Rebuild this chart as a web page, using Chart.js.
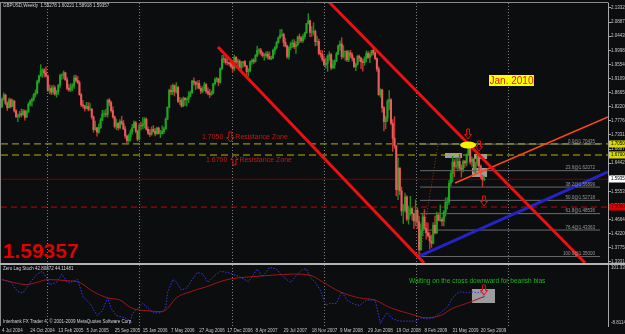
<!DOCTYPE html>
<html><head><meta charset="utf-8">
<script src="https://cdn.jsdelivr.net/npm/chart.js@4.4.1/dist/chart.umd.min.js"></script>
<style>
html,body{margin:0;padding:0;background:#0b0d0f;width:625px;height:334px;overflow:hidden}
#main{position:absolute;left:0;top:0}
#sub{position:absolute;left:0;top:263px}
</style></head><body>
<canvas id="main" width="625" height="264"></canvas>
<canvas id="sub" width="625" height="71"></canvas>
<script>
// ---------- DATA (weekly GBPUSD, week 0 = 4 Jul 2004) ----------
const symbolTitle = 'GBPUSD,Weekly';
const opens = [
1.8210,1.8460,1.8590,1.8330,1.8190,1.8440,1.8230,1.8400,1.8090,1.7910,
1.7940,1.8000,1.7970,1.8080,1.7890,1.8060,1.8300,1.8400,1.8460,1.8600,
1.8660,1.9020,1.9190,1.9350,1.9380,1.9280,1.9190,1.8730,1.8800,1.8680,
1.8820,1.8620,1.8700,1.8900,1.9200,1.9200,1.9290,1.9070,1.8800,1.8750,
1.8830,1.8890,1.9130,1.9050,1.8980,1.8600,1.8280,1.8250,1.8160,1.8230,
1.8150,1.8150,1.7900,1.7500,1.7560,1.7420,1.7560,1.7800,1.7990,1.8000,
1.7980,1.8430,1.8350,1.8100,1.7900,1.7600,1.7700,1.7560,1.7760,1.7690,
1.7520,1.7300,1.7150,1.7280,1.7430,1.7560,1.7720,1.7450,1.7200,1.7630,
1.7620,1.7680,1.7830,1.7510,1.7390,1.7350,1.7510,1.7450,1.7370,1.7550,
1.7380,1.7380,1.7440,1.7530,1.7830,1.8200,1.8740,1.8690,1.8890,1.8690,
1.8830,1.8390,1.8420,1.8240,1.8480,1.8440,1.8450,1.8550,1.8660,1.9030,
1.8990,1.8920,1.8960,1.8800,1.8710,1.8770,1.8920,1.8700,1.8650,1.8600,
1.8650,1.8950,1.9080,1.9100,1.8990,1.9420,1.9730,1.9720,1.9620,1.9610,
1.9580,1.9490,1.9420,1.9780,1.9630,1.9660,1.9450,1.9600,1.9640,1.9510,
1.9330,1.9360,1.9640,1.9680,1.9650,1.9830,2.0000,2.0010,1.9920,1.9830,
1.9830,1.9880,1.9800,1.9730,1.9750,2.0000,2.0080,2.0240,2.0390,2.0480,
2.0500,2.0250,2.0140,1.9800,2.0080,2.0200,2.0230,2.0110,2.0180,2.0420,
2.0380,2.0300,2.0430,2.0550,2.0840,2.0930,2.0560,2.0580,2.0600,2.0270,
2.0280,1.9900,1.9860,1.9710,1.9540,1.9590,1.9810,1.9860,1.9450,1.9540,
1.9660,1.9880,2.0140,2.0200,1.9800,1.9960,1.9960,1.9700,1.9920,1.9850,
1.9740,1.9480,1.9560,1.9810,1.9760,1.9640,1.9610,1.9730,1.9900,1.9770,
1.9870,2.0000,1.9920,1.9740,1.9410,1.8600,1.8750,1.8190,1.7750,1.7860,
1.8380,1.8440,1.7700,1.7230,1.6990,1.5610,1.6290,1.5570,1.4940,1.4960,
1.5380,1.4680,1.4860,1.5010,1.4850,1.4620,1.4960,1.4600,1.3710,1.4320,
1.4750,1.4390,1.4250,1.4150,1.3990,1.3920,1.4490,1.4250,1.4810,1.4640,
1.4670,1.4620,1.4900,1.5210,1.5220,1.5810,1.6120,1.6480,1.6340,1.6360,
1.6500,1.6290,1.6250,1.6500,1.6450,1.6700,1.6950,1.6480,1.6570,1.6240,
1.6450,1.6640,1.6350,1.6010,1.59278];
const highs = [
1.8500,1.8660,1.8620,1.8380,1.8490,1.8480,1.8460,1.8420,1.8130,1.7990,
1.8080,1.8150,1.8140,1.8120,1.8110,1.8350,1.8440,1.8500,1.8640,1.8750,
1.9060,1.9220,1.9550,1.9420,1.9420,1.9480,1.9230,1.8910,1.8880,1.8900,
1.8880,1.8740,1.8920,1.9250,1.9260,1.9350,1.9310,1.9150,1.8920,1.8950,
1.8950,1.9210,1.9220,1.9180,1.9040,1.8640,1.8420,1.8270,1.8360,1.8350,
1.8340,1.8160,1.7930,1.7770,1.7570,1.7680,1.7860,1.8110,1.8100,1.8140,
1.8450,1.8480,1.8400,1.8220,1.7930,1.7830,1.7720,1.7820,1.7920,1.7790,
1.7600,1.7330,1.7360,1.7500,1.7670,1.7780,1.7760,1.7480,1.7700,1.7740,
1.7880,1.7880,1.7870,1.7580,1.7500,1.7590,1.7630,1.7540,1.7580,1.7580,
1.7480,1.7620,1.7580,1.7870,1.8220,1.8780,1.8890,1.8940,1.8910,1.8980,
1.8870,1.8520,1.8490,1.8530,1.8520,1.8500,1.8700,1.8720,1.9050,1.9130,
1.9020,1.9040,1.9050,1.8870,1.8850,1.8990,1.8950,1.8820,1.8770,1.8720,
1.8960,1.9130,1.9150,1.9120,1.9450,1.9840,1.9850,1.9770,1.9780,1.9630,
1.9680,1.9560,1.9850,1.9800,1.9720,1.9700,1.9650,1.9650,1.9680,1.9520,
1.9420,1.9670,1.9730,1.9740,1.9870,2.0130,2.0050,2.0060,1.9950,1.9900,
1.9960,1.9960,1.9950,1.9820,2.0040,2.0120,2.0280,2.0420,2.0650,2.0660,
2.0540,2.0380,2.0160,2.0120,2.0260,2.0330,2.0340,2.0280,2.0450,2.0520,
2.0440,2.0500,2.0570,2.0850,2.1160,2.0950,2.0750,2.0870,2.0640,2.0450,
2.0350,2.0000,1.9990,1.9820,1.9750,1.9860,1.9960,1.9900,1.9690,1.9700,
1.9940,2.0160,2.0300,2.0400,2.0150,1.9980,2.0000,1.9990,2.0000,1.9920,
1.9760,1.9600,1.9850,1.9850,1.9770,1.9720,1.9800,1.9980,1.9970,1.9930,
2.0000,2.0080,1.9950,1.9760,1.9480,1.8790,1.8780,1.8230,1.7930,1.8450,
1.8730,1.8480,1.7820,1.7910,1.7000,1.6620,1.6300,1.5690,1.5140,1.5500,
1.5420,1.5090,1.5400,1.5040,1.4860,1.5290,1.5040,1.4770,1.4530,1.4870,
1.4980,1.4570,1.4560,1.4260,1.4180,1.4570,1.4780,1.4900,1.4880,1.5120,
1.4740,1.4950,1.5350,1.5360,1.5900,1.6180,1.6660,1.6560,1.6610,1.6620,
1.6720,1.6390,1.6540,1.6530,1.6740,1.7040,1.6990,1.6640,1.6590,1.6480,
1.6690,1.6750,1.6390,1.6060,1.60221];
const lows = [
1.8200,1.8420,1.8280,1.8100,1.8180,1.8180,1.8220,1.8050,1.7880,1.7750,
1.7880,1.7900,1.7950,1.7800,1.7880,1.8040,1.8250,1.8240,1.8400,1.8530,
1.8630,1.8960,1.9180,1.9150,1.9160,1.9150,1.8700,1.8630,1.8600,1.8620,
1.8580,1.8520,1.8610,1.8830,1.9080,1.9100,1.9050,1.8750,1.8700,1.8700,
1.8720,1.8800,1.9000,1.8950,1.8580,1.8220,1.8180,1.8080,1.8150,1.8090,
1.8100,1.7840,1.7420,1.7480,1.7290,1.7380,1.7530,1.7780,1.7900,1.7900,
1.7890,1.8250,1.8050,1.7850,1.7550,1.7500,1.7480,1.7520,1.7650,1.7500,
1.7220,1.7050,1.7100,1.7140,1.7350,1.7550,1.7400,1.7140,1.7170,1.7490,
1.7530,1.7550,1.7480,1.7340,1.7280,1.7320,1.7420,1.7300,1.7350,1.7360,
1.7250,1.7360,1.7370,1.7510,1.7820,1.8180,1.8600,1.8600,1.8560,1.8650,
1.8350,1.8290,1.8210,1.8220,1.8260,1.8240,1.8350,1.8530,1.8640,1.8900,
1.8760,1.8800,1.8780,1.8630,1.8660,1.8730,1.8640,1.8590,1.8510,1.8580,
1.8630,1.8900,1.9000,1.8880,1.8960,1.9380,1.9600,1.9560,1.9540,1.9520,
1.9450,1.9300,1.9360,1.9580,1.9500,1.9400,1.9340,1.9470,1.9480,1.9190,
1.9180,1.9320,1.9560,1.9580,1.9620,1.9800,1.9880,1.9850,1.9780,1.9690,
1.9770,1.9720,1.9710,1.9700,1.9740,1.9880,2.0040,2.0220,2.0370,2.0440,
2.0120,2.0100,1.9740,1.9720,2.0010,2.0090,2.0050,1.9900,2.0140,2.0230,
2.0250,2.0250,2.0350,2.0530,2.0820,2.0430,2.0440,2.0480,2.0140,2.0150,
1.9850,1.9780,1.9650,1.9520,1.9440,1.9330,1.9680,1.9380,1.9420,1.9430,
1.9640,1.9860,2.0000,1.9720,1.9760,1.9680,1.9640,1.9640,1.9770,1.9660,
1.9460,1.9360,1.9530,1.9650,1.9420,1.9340,1.9530,1.9630,1.9740,1.9610,
1.9820,1.9850,1.9700,1.9330,1.8580,1.8520,1.8050,1.7460,1.7530,1.7750,
1.8130,1.7650,1.6810,1.6910,1.5410,1.5290,1.5450,1.4800,1.4540,1.4900,
1.4620,1.4520,1.4800,1.4650,1.4380,1.4470,1.4380,1.3500,1.3700,1.4150,
1.4370,1.4050,1.4120,1.3740,1.3790,1.3900,1.4210,1.4220,1.4630,1.4610,
1.4470,1.4470,1.4770,1.5000,1.5140,1.5730,1.5850,1.6010,1.6280,1.6230,
1.6220,1.6000,1.6170,1.6310,1.6360,1.6680,1.6410,1.6340,1.6170,1.6080,
1.6360,1.6220,1.5950,1.5710,1.58918];
const closes = [
1.8460,1.8590,1.8330,1.8190,1.8440,1.8230,1.8400,1.8090,1.7910,1.7940,
1.8000,1.7970,1.8080,1.7890,1.8060,1.8300,1.8400,1.8460,1.8600,1.8660,
1.9020,1.9190,1.9350,1.9380,1.9280,1.9190,1.8730,1.8800,1.8680,1.8820,
1.8620,1.8700,1.8900,1.9200,1.9200,1.9290,1.9070,1.8800,1.8750,1.8830,
1.8890,1.9130,1.9050,1.8980,1.8600,1.8280,1.8250,1.8160,1.8230,1.8150,
1.8150,1.7900,1.7500,1.7560,1.7420,1.7560,1.7800,1.7990,1.8000,1.7980,
1.8430,1.8350,1.8100,1.7900,1.7600,1.7700,1.7560,1.7760,1.7690,1.7520,
1.7300,1.7150,1.7280,1.7430,1.7560,1.7720,1.7450,1.7200,1.7630,1.7620,
1.7680,1.7830,1.7510,1.7390,1.7350,1.7510,1.7450,1.7370,1.7550,1.7380,
1.7380,1.7440,1.7530,1.7830,1.8200,1.8740,1.8690,1.8890,1.8690,1.8830,
1.8390,1.8420,1.8240,1.8480,1.8440,1.8450,1.8550,1.8660,1.9030,1.8990,
1.8920,1.8960,1.8800,1.8710,1.8770,1.8920,1.8700,1.8650,1.8600,1.8650,
1.8950,1.9080,1.9100,1.8990,1.9420,1.9730,1.9720,1.9620,1.9610,1.9580,
1.9490,1.9420,1.9780,1.9630,1.9660,1.9450,1.9600,1.9640,1.9510,1.9330,
1.9360,1.9640,1.9680,1.9650,1.9830,2.0000,2.0010,1.9920,1.9830,1.9830,
1.9880,1.9800,1.9730,1.9750,2.0000,2.0080,2.0240,2.0390,2.0480,2.0500,
2.0250,2.0140,1.9800,2.0080,2.0200,2.0230,2.0110,2.0180,2.0420,2.0380,
2.0300,2.0430,2.0550,2.0840,2.0930,2.0560,2.0580,2.0600,2.0270,2.0280,
1.9900,1.9860,1.9710,1.9540,1.9590,1.9810,1.9860,1.9450,1.9540,1.9660,
1.9880,2.0140,2.0200,1.9800,1.9960,1.9960,1.9700,1.9920,1.9850,1.9740,
1.9480,1.9560,1.9810,1.9760,1.9640,1.9610,1.9730,1.9900,1.9770,1.9870,
2.0000,1.9920,1.9740,1.9410,1.8600,1.8750,1.8190,1.7750,1.7860,1.8380,
1.8440,1.7700,1.7230,1.6990,1.5610,1.6290,1.5570,1.4940,1.4960,1.5380,
1.4680,1.4860,1.5010,1.4850,1.4620,1.4960,1.4600,1.3710,1.4320,1.4750,
1.4390,1.4250,1.4150,1.3990,1.3920,1.4490,1.4250,1.4810,1.4640,1.4670,
1.4620,1.4900,1.5210,1.5220,1.5810,1.6120,1.6480,1.6340,1.6360,1.6500,
1.6290,1.6250,1.6500,1.6450,1.6700,1.6950,1.6480,1.6570,1.6240,1.6450,
1.6640,1.6350,1.6010,1.5928,1.59357];

// price axis ticks (right scale)
const priceTicks = [2.13320,2.08875,2.04430,1.99985,1.95540,1.91095,1.86650,1.82205,1.77760,1.73315,
                    1.68870,1.64425,1.59980,1.55535,1.51090,1.46645,1.42200,1.37755,1.33310];
const priceMin = 1.3298, priceMax = 2.14895;
const weekMin = -0.57, weekMax = 344.3;

// time axis labels
const dateWeeks = [0,16,32,48,64,80,96,112,128,144,160,176,192,208,224,240,256,272];
const dateLabels = ['4 Jul 2004','24 Oct 2004','13 Feb 2005','5 Jun 2005','25 Sep 2005','15 Jan 2006','7 May 2006',
  '27 Aug 2006','17 Dec 2006','8 Apr 2007','29 Jul 2007','18 Nov 2007','9 Mar 2008','29 Jun 2008','19 Oct 2008',
  '8 Feb 2009','31 May 2009','20 Sep 2009'];
const yearWeeks = [25.6, 77.8, 130.7, 183.0, 235.2, 287.5];

// drawn objects (week, price)
const upperChannel = [[185.8, 2.1521], [331.3, 1.3299]];
const lowerChannel = [[122.7, 2.0103], [239.8, 1.3299]];
const blueSupport  = [[237.5, 1.3519], [344.3, 1.6166]];
const orangeLine   = [[257.4, 1.5819], [344.3, 1.7898]];
const fibAnchor    = [[237.5, 1.3500], [247.7, 1.70435]];
const resistLevels = [1.7050, 1.6700];
const supportLevel = 1.5060;
const fibRatios = [0.0, 23.6, 38.2, 50.0, 61.8, 76.4, 100.0];
const fibPrices = [1.70435, 1.62072, 1.56899, 1.52718, 1.48536, 1.43363, 1.35000];
const fibSpan = [237.5, 339.8];
const grayBoxes = [[251.7, 261.4, 1.6764, 1.6607], [268.2, 275.6, 1.6733, 1.6575], [267.0, 275.6, 1.6292, 1.6008]];
const topEllipse = [264.8, 1.7016];
const downArrows = [[264.8, 1.7363], [271.0, 1.6985], [273.9, 1.5252]];
const resistanceNotes = [
  {week: 113.6, price: 1.7268, level: '1.7050', dir: 'down'},
  {week: 115.9, price: 1.6543, level: '1.6700', dir: 'up'}
];
const jan2010Note = {week: 276.7, price: 1.9048, text: 'Jan. 2010'};

// Zero Lag Stoch sub-window
const stochMin = -8.8114, stochMax = 101.334;
const fastWeeks = [0,5,9,12,16,20,23,26,27,31,34,37,40,43,46,50,54,57,60,62,65,70,73,74,77,80,83,86,90,93,
  94,97,99,102,105,108,111,114,117,120,124,128,131,135,140,145,148,152,156,160,164,168,171,173,175,178,181,184,186,190,
  193,196,199,203,207,212,215,218,219,222,226,230,235,238,241,245,249,253,256,259,261,264,267,270,273,274];
const fastVals = [75,70,53,51,70,85,90,75,66,70,85,70,71,75,44,32,10,19,42,23,10,6,0,13,23,32,23,15,15,23,
  51,75,71,56,60,75,88,85,70,80,90,88,85,80,71,94,80,97,94,79,70,85,94,94,80,70,55,28,32,32,
  53,38,32,28,38,38,-4,13,15,4,0,0,0,6,4,6,15,25,42,51,53,51,53,51,53,42.80872];
const slowWeeks = [0,5,14,20,26,37,44,52,60,67,74,82,91,94,99,107,116,128,141,154,165,175,182,192,203,212,220,232,241,249,256,264,272,274];
const slowVals  = [75,71,66,70,75,73,70,53,42,38,23,19,17,23,42,53,62,75,80,83,85,83,71,53,42,38,25,13,6,10,23,32,42,44.11481];
const subBox = [267.0, 280.1, 58.0, 32.7];
const subArrow = [273.9, 56.2];
const subNote = {week: 231.25, value: 72.4, text: 'Waiting on the cross downward for bearish bias'};

// ---------- STYLE ----------
const BG = '#0b0d0f';
const FONT = '"Liberation Sans", Arial, sans-serif';
const BULL = '#22a422', BEAR = '#ea5c5c', BULLW = '#1c8c1c', BEARW = '#c83434';
const last = closes.length - 1;
const bid = closes[last];

const idx = closes.map((c, i) => i);
const isUp = idx.map(i => closes[i] >= opens[i]);

function seg(pts, color, width, dash, order) {
  return {type: 'line', data: pts.map(p => ({x: p[0], y: p[1]})), borderColor: color, borderWidth: width,
    borderDash: dash || [], pointRadius: 0, pointHoverRadius: 0, fill: false, tension: 0, order: order, borderCapStyle: 'butt'};
}

function arrowPath(ctx, cx, cy, dir) {
  const s = dir === 'down' ? 1 : -1;
  ctx.beginPath();
  ctx.moveTo(cx - 1.5, cy - 5 * s);
  ctx.lineTo(cx + 1.5, cy - 5 * s);
  ctx.lineTo(cx + 1.5, cy + 0.5 * s);
  ctx.lineTo(cx + 3.5, cy + 0.5 * s);
  ctx.lineTo(cx, cy + 5 * s);
  ctx.lineTo(cx - 3.5, cy + 0.5 * s);
  ctx.lineTo(cx - 1.5, cy + 0.5 * s);
  ctx.closePath();
  ctx.strokeStyle = '#e01010';
  ctx.lineWidth = 1;
  ctx.stroke();
}

function drawYearGrid(chart) {
  const {ctx, chartArea: a, scales: {x}} = chart;
  ctx.save();
  ctx.strokeStyle = '#808080'; ctx.lineWidth = 1; ctx.setLineDash([1, 2]);
  yearWeeks.forEach(w => {
    const X = Math.round(x.getPixelForValue(w)) + 0.5;
    ctx.beginPath(); ctx.moveTo(X, a.top); ctx.lineTo(X, a.bottom); ctx.stroke();
  });
  ctx.restore();
}

function axisTag(ctx, Y, text, bg, fg) {
  ctx.fillStyle = bg;
  ctx.fillRect(609, Math.round(Y) - 3.5, 16, 7);
  ctx.fillStyle = fg;
  ctx.font = '4.5px ' + FONT;
  ctx.textBaseline = 'middle'; ctx.textAlign = 'left';
  ctx.fillText(text, 611, Math.round(Y));
}

const mainOverlay = {
  id: 'mainOverlay',
  beforeDraw(chart) {
    const c = chart.ctx; c.save(); c.fillStyle = BG; c.fillRect(0, 0, chart.width, chart.height); c.restore();
  },
  beforeDatasetsDraw(chart) {
    const {ctx, chartArea: a, scales: {x, y}} = chart;
    drawYearGrid(chart);
    ctx.save();
    ctx.beginPath(); ctx.rect(a.left, a.top, a.right - a.left, a.bottom - a.top); ctx.clip();
    ctx.fillStyle = '#9c9c9c';
    grayBoxes.forEach(b => {
      const x1 = x.getPixelForValue(b[0]), x2 = x.getPixelForValue(b[1]);
      const y1 = y.getPixelForValue(b[2]), y2 = y.getPixelForValue(b[3]);
      ctx.fillRect(x1, y1, x2 - x1, y2 - y1);
    });
    ctx.restore();
  },
  afterDatasetsDraw(chart) {
    const {ctx, scales: {x, y}} = chart;
    ctx.save();
    ctx.fillStyle = '#f4f400';
    ctx.beginPath();
    ctx.ellipse(x.getPixelForValue(topEllipse[0]), y.getPixelForValue(topEllipse[1]), 8, 3.5, 0, 0, Math.PI * 2);
    ctx.fill();
    downArrows.forEach(p => arrowPath(ctx, x.getPixelForValue(p[0]), y.getPixelForValue(p[1]), 'down'));
    ctx.restore();
  },
  afterDraw(chart) {
    const {ctx, chartArea: a, scales: {x, y}} = chart;
    ctx.save();
    // borders
    ctx.strokeStyle = '#8a8a8a'; ctx.lineWidth = 1;
    ctx.beginPath(); ctx.moveTo(0, 2.5); ctx.lineTo(608.5, 2.5); ctx.stroke();
    ctx.beginPath(); ctx.moveTo(0.5, 2); ctx.lineTo(0.5, 264); ctx.stroke();
    // header
    ctx.fillStyle = '#d6d6d6'; ctx.font = '4.5px ' + FONT; ctx.textBaseline = 'middle'; ctx.textAlign = 'left';
    ctx.fillText(symbolTitle + '  ' + [opens[last], highs[last], lows[last], closes[last]].map(v => v.toFixed(5)).join(' '), 3, 6);
    // fib labels
    ctx.fillStyle = '#9a9a9a'; ctx.textAlign = 'right'; ctx.textBaseline = 'alphabetic';
    fibRatios.forEach((r, i) => {
      ctx.fillText(r.toFixed(1) + '@' + fibPrices[i].toFixed(5), x.getPixelForValue(336.9), y.getPixelForValue(fibPrices[i]) - 1.5);
    });
    // resistance notes
    ctx.textAlign = 'left'; ctx.textBaseline = 'middle';
    resistanceNotes.forEach(n => {
      const X = x.getPixelForValue(n.week), Y = y.getPixelForValue(n.price);
      ctx.font = '7px ' + FONT; ctx.fillStyle = '#c41818';
      ctx.fillText(n.level, X, Y);
      const w = ctx.measureText(n.level).width;
      arrowPath(ctx, X + w + 7, Y + (n.dir === 'down' ? 0 : 0), n.dir);
      ctx.fillStyle = '#c41818';
      ctx.fillText('Resistance Zone', X + w + 12, Y);
    });
    // Jan. 2010 label
    ctx.font = '10px ' + FONT;
    const jx = x.getPixelForValue(jan2010Note.week), jy = y.getPixelForValue(jan2010Note.price);
    const jw = ctx.measureText(jan2010Note.text).width;
    ctx.fillStyle = '#ffff00'; ctx.fillRect(jx, jy - 5.5, jw + 1, 11);
    ctx.fillStyle = '#d82010'; ctx.textBaseline = 'middle';
    ctx.fillText(jan2010Note.text, jx + 0.5, jy + 0.5);
    // big price
    ctx.font = 'bold 21px ' + FONT; ctx.fillStyle = '#e30000'; ctx.textBaseline = 'alphabetic';
    ctx.fillText(bid.toFixed(5), 3, 257.5);
    // axis tags
    axisTag(ctx, y.getPixelForValue(resistLevels[0]), resistLevels[0].toFixed(5), '#d8d800', '#000');
    axisTag(ctx, y.getPixelForValue(resistLevels[1]), resistLevels[1].toFixed(5), '#d8d800', '#000');
    axisTag(ctx, y.getPixelForValue(bid), bid.toFixed(5), '#ffffff', '#000');
    axisTag(ctx, y.getPixelForValue(supportLevel), supportLevel.toFixed(5), '#dd0000', '#500000');
    ctx.restore();
  }
};

const mainDatasets = [
  {type: 'bar', data: idx.map(i => ({x: i, y: [lows[i], highs[i]]})), backgroundColor: idx.map(i => isUp[i] ? BULLW : BEARW),
   barThickness: 0.8, grouped: false, order: 40},
  {type: 'bar', data: idx.map(i => ({x: i, y: [opens[i], closes[i]]})), backgroundColor: idx.map(i => isUp[i] ? BULL : BEAR),
   barThickness: 1.4, grouped: false, order: 30},
  seg([[weekMin, resistLevels[0]], [weekMax, resistLevels[0]]], '#b4b400', 1, [7, 4], 50),
  seg([[weekMin, resistLevels[1]], [weekMax, resistLevels[1]]], '#b4b400', 1, [7, 4], 50),
  seg([[weekMin, bid], [weekMax, bid]], '#7c0000', 1, [], 50),
  seg([[weekMin, supportLevel], [weekMax, supportLevel]], '#c80000', 1, [6, 4], 50)
];
fibPrices.forEach(p => mainDatasets.push(seg([[fibSpan[0], p], [fibSpan[1], p]], '#6c6c6c', 1, [], 55)));
mainDatasets.push(seg(fibAnchor, '#9a3a1a', 1, [1, 2], 20));
mainDatasets.push(seg(upperChannel, '#ec1010', 3, [], 10));
mainDatasets.push(seg(lowerChannel, '#ec1010', 3, [], 10));
mainDatasets.push(seg(blueSupport, '#2424c4', 3, [], 10));
mainDatasets.push(seg(orangeLine, '#ff4a10', 1.5, [], 10));

new Chart(document.getElementById('main'), {
  type: 'bar',
  data: {datasets: mainDatasets},
  options: {
    responsive: false, animation: false, devicePixelRatio: 1, events: [],
    layout: {padding: {left: 1, right: 0, top: 3, bottom: 1}},
    plugins: {legend: {display: false}, tooltip: {enabled: false}},
    scales: {
      x: {type: 'linear', display: false, min: weekMin, max: weekMax, offset: false},
      y: {type: 'linear', position: 'right', min: priceMin, max: priceMax,
        afterFit: s => { s.width = 17; s.paddingTop = 0; s.paddingBottom = 0; },
        afterBuildTicks: s => { s.ticks = priceTicks.map(v => ({value: v})); },
        ticks: {autoSkip: false, padding: 0, color: '#c8c8c8', font: {family: FONT, size: 4.5}, callback: v => Number(v).toFixed(5)},
        grid: {drawOnChartArea: false, drawTicks: true, tickLength: 3, color: '#a8a8a8'},
        border: {display: true, color: '#a8a8a8'}}
    }
  },
  plugins: [mainOverlay]
});

const subOverlay = {
  id: 'subOverlay',
  beforeDraw(chart) {
    const c = chart.ctx; c.save(); c.fillStyle = BG; c.fillRect(0, 0, chart.width, chart.height);
    c.fillStyle = '#b4b4b4'; c.fillRect(0, 0, chart.width, 2); c.restore();
  },
  beforeDatasetsDraw(chart) {
    const {ctx, scales: {x, y}} = chart;
    drawYearGrid(chart);
    ctx.save();
    ctx.fillStyle = '#9c9c9c';
    const x1 = x.getPixelForValue(subBox[0]), x2 = x.getPixelForValue(subBox[1]);
    const y1 = y.getPixelForValue(subBox[2]), y2 = y.getPixelForValue(subBox[3]);
    ctx.fillRect(x1, y1, x2 - x1, y2 - y1);
    ctx.restore();
  },
  afterDraw(chart) {
    const {ctx, chartArea: a, scales: {x, y}} = chart;
    ctx.save();
    ctx.strokeStyle = '#8a8a8a'; ctx.lineWidth = 1;
    ctx.beginPath(); ctx.moveTo(0.5, 2); ctx.lineTo(0.5, a.bottom); ctx.stroke();
    arrowPath(ctx, x.getPixelForValue(subArrow[0]), y.getPixelForValue(subArrow[1]), 'down');
    ctx.font = '6.5px ' + FONT; ctx.fillStyle = '#1cb81c'; ctx.textBaseline = 'middle'; ctx.textAlign = 'left';
    ctx.fillText(subNote.text, x.getPixelForValue(subNote.week), y.getPixelForValue(subNote.value));
    ctx.font = '4.5px ' + FONT; ctx.fillStyle = '#d6d6d6';
    ctx.fillText('Zero Lag Stoch ' + fastVals[fastVals.length - 1].toFixed(5) + ' ' + slowVals[slowVals.length - 1].toFixed(5), 3, 6);
    ctx.fillText('Interbank FX Trader 4, \u00a9 2001-2009 MetaQuotes Software Corp.', 3, 59);
    ctx.fillStyle = '#c8c8c8';
    ctx.fillText(stochMax.toFixed(4), 611, 5);
    ctx.fillText(stochMin.toFixed(4), 611, 60);
    ctx.restore();
  }
};

new Chart(document.getElementById('sub'), {
  type: 'line',
  data: {datasets: [
    {data: fastWeeks.map((w, i) => ({x: w, y: fastVals[i]})), borderColor: '#3838ec', borderWidth: 1, borderDash: [1.5, 1.5],
     pointRadius: 0, tension: 0, order: 1},
    {data: slowWeeks.map((w, i) => ({x: w, y: slowVals[i]})), borderColor: '#a41414', borderWidth: 1,
     pointRadius: 0, cubicInterpolationMode: 'monotone', order: 2}
  ]},
  options: {
    responsive: false, animation: false, devicePixelRatio: 1, events: [],
    layout: {padding: {left: 1, right: 0, top: 2, bottom: 0}},
    plugins: {legend: {display: false}, tooltip: {enabled: false}},
    scales: {
      x: {type: 'linear', min: weekMin, max: weekMax, offset: false,
        afterFit: s => { s.height = 8; s.paddingLeft = 0; s.paddingRight = 0; },
        afterBuildTicks: s => { s.ticks = dateWeeks.map(v => ({value: v})); },
        ticks: {autoSkip: false, maxRotation: 0, minRotation: 0, align: 'start', padding: 2, color: '#c8c8c8',
          font: {family: FONT, size: 4.5}, callback: (v, i) => dateLabels[i]},
        grid: {display: false, drawTicks: false}, border: {display: false}},
      y: {type: 'linear', position: 'right', min: stochMin, max: stochMax,
        afterFit: s => { s.width = 17; s.paddingTop = 0; s.paddingBottom = 0; },
        ticks: {display: false}, grid: {display: false, drawTicks: false},
        border: {display: true, color: '#a8a8a8'}}
    }
  },
  plugins: [subOverlay]
});
</script>
</body></html>
